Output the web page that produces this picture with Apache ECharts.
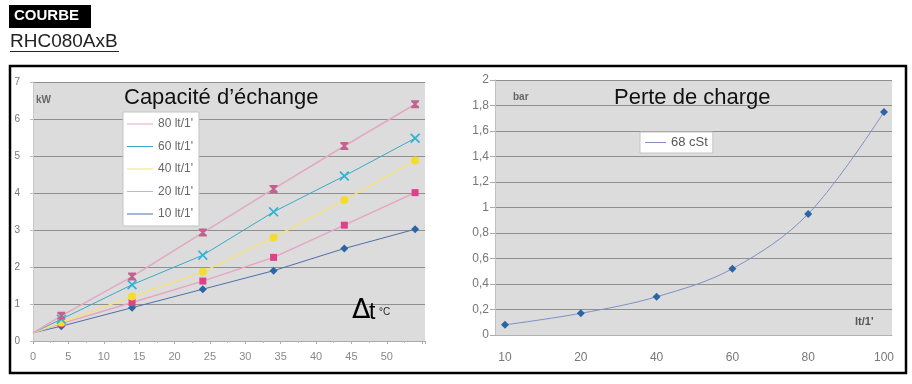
<!DOCTYPE html>
<html>
<head>
<meta charset="utf-8">
<script src="https://cdn.jsdelivr.net/npm/echarts@6/dist/echarts.min.js"></script>
<style>
html,body{margin:0;padding:0;background:#fff;}
#c{width:912px;height:384px;}
</style>
</head>
<body>
<div id="c"></div>
<script>
// ---- data ----
const dtValues = [0, 4, 14, 24, 34, 44, 54];           // Δt °C
const kw80 = [0.22, 0.68, 1.74, 2.93, 4.11, 5.27, 6.40];
const kw60 = [0.22, 0.59, 1.52, 2.32, 3.49, 4.46, 5.48];
const kw40 = [0.22, 0.50, 1.20, 1.87, 2.80, 3.81, 4.88];
const kw20 = [0.22, 0.47, 1.04, 1.62, 2.26, 3.13, 4.01];
const kw10 = [0.22, 0.40, 0.90, 1.40, 1.90, 2.50, 3.02];
const seriesNames = ["80 lt/1'", "60 lt/1'", "40 lt/1'", "20 lt/1'", "10 lt/1'"];
const flowCats = ['10', '20', '40', '60', '80', '100'];  // lt/1'
const bar68 = [0.08, 0.17, 0.30, 0.52, 0.95, 1.75];
const leftXTickMax = 50;

const FONT = "'Liberation Sans', Arial, sans-serif";
const pairs = arr => arr.map((v, i) => [dtValues[i], v]);
const hideFirst = size => (val, p) => p.dataIndex === 0 ? 0 : size;

const XPATH = 'path://M0,1.2 L1.2,0 L5,3.8 L8.8,0 L10,1.2 L6.2,5 L10,8.8 L8.8,10 L5,6.2 L1.2,10 L0,8.8 L3.8,5 Z';
const HOURGLASS = 'path://M0,0 L10,0 L10,2 L6.5,5 L10,8 L10,10 L0,10 L0,8 L3.5,5 L0,2 Z';

const styles = [
  {data: kw80, line: '#e2a9c2', mark: '#c2628e', symbol: HOURGLASS, size: 8, w: 1.6},
  {data: kw60, line: '#3aa9c6', mark: '#2fb2d6', symbol: XPATH, size: 10, w: 1},
  {data: kw40, line: '#f3e27a', mark: '#f4dc2e', symbol: 'circle', size: 8, w: 1.4},
  {data: kw20, line: '#e7a3c3', mark: '#e0408a', symbol: 'rect', size: 7, w: 1.4},
  {data: kw10, line: '#4d6fa8', mark: '#2b65a5', symbol: 'diamond', size: 8, w: 1}
];

const chart = echarts.init(document.getElementById('c'));
const option = {
  backgroundColor: '#ffffff',
  animation: false,
  textStyle: {fontFamily: FONT},
  title: [
    {text: 'Capacité d’échange', left: 119, top: 82, textStyle: {fontSize: 22, fontWeight: 'normal', color: '#111', fontFamily: FONT}},
    {text: 'Perte de charge', left: 609, top: 82, textStyle: {fontSize: 22, fontWeight: 'normal', color: '#111', fontFamily: FONT}}
  ],
  legend: [
    {
      orient: 'vertical', left: 123, top: 112,
      data: styles.map((s, i) => ({name: seriesNames[i], itemStyle: {color: s.line}})),
      icon: 'rect', itemWidth: 26, itemHeight: 1, itemGap: 8.5,
      backgroundColor: '#ffffff', borderColor: '#c4c4c4', borderWidth: 1,
      padding: [5, 6, 5, 4],
      textStyle: {fontSize: 12, color: '#666', lineHeight: 14, padding: [0, 0, 0, 0], fontFamily: FONT}
    },
    {
      orient: 'horizontal', left: 640, top: 132,
      data: [{name: '68 cSt', itemStyle: {color: '#8090c4'}}],
      icon: 'rect', itemWidth: 21, itemHeight: 1,
      backgroundColor: '#ffffff', borderColor: '#c4c4c4', borderWidth: 1,
      padding: [4, 5, 4, 5],
      textStyle: {fontSize: 13, color: '#555', fontFamily: FONT}
    }
  ],
  grid: [
    {left: 33, right: 487, top: 82, bottom: 43, show: true, backgroundColor: '#dcdcdc', borderWidth: 0},
    {left: 495, right: 20, top: 80, bottom: 49, show: true, backgroundColor: '#dcdcdc', borderWidth: 0},
    {left: 505, right: 28, top: 80, bottom: 49}
  ],
  xAxis: [
    {
      gridIndex: 0, type: 'value', min: 0, max: 55.4, interval: 5,
      axisLine: {show: true, lineStyle: {color: '#aaa'}},
      axisTick: {show: true, length: 3, lineStyle: {color: '#aaa'}},
      minorTick: {show: true, splitNumber: 2, length: 2, lineStyle: {color: '#bbb'}},
      splitLine: {show: false},
      axisLabel: {fontSize: 11, color: '#888', margin: 10, fontFamily: FONT,
        formatter: v => (v > leftXTickMax ? '' : String(v))}
    },
    {
      gridIndex: 1, type: 'value', min: 0, max: 1, show: true,
      axisLine: {show: true, lineStyle: {color: '#b0b0b0'}},
      axisTick: {show: false}, axisLabel: {show: false}, splitLine: {show: false}
    },
    {
      gridIndex: 2, type: 'category', data: flowCats, boundaryGap: false,
      axisLine: {show: false}, axisTick: {show: false}, splitLine: {show: false},
      axisLabel: {fontSize: 12, color: '#777', margin: 17, fontFamily: FONT}
    }
  ],
  yAxis: [
    {
      gridIndex: 0, type: 'value', min: 0, max: 7, interval: 1,
      axisLine: {show: true, lineStyle: {color: '#c8c8c8'}},
      axisTick: {show: true, length: 3, lineStyle: {color: '#bbb'}},
      axisLabel: {fontSize: 10, color: '#777', margin: 13, fontFamily: FONT},
      splitLine: {show: true, lineStyle: {color: '#8f8f8f', width: 1}},
      splitArea: {show: false}
    },
    {
      gridIndex: 1, type: 'value', min: 0, max: 2, interval: 0.2,
      axisLine: {show: true, lineStyle: {color: '#c0c0c0'}},
      axisTick: {show: true, length: 5, lineStyle: {color: '#aaa'}},
      axisLabel: {fontSize: 12, color: '#777', margin: 6, fontFamily: FONT,
        formatter: v => String(Math.round(v * 10) / 10).replace('.', ',')},
      splitLine: {show: true, lineStyle: {color: '#8f8f8f', width: 1}}
    },
    {
      gridIndex: 2, type: 'value', min: 0, max: 2, show: false
    }
  ],
  series: [
    ...styles.map((s, i) => ({
      name: seriesNames[i], type: 'line', xAxisIndex: 0, yAxisIndex: 0,
      data: pairs(s.data),
      symbol: s.symbol, symbolSize: hideFirst(s.size),
      lineStyle: {color: s.line, width: s.w},
      itemStyle: {color: s.mark},
      z: 10 - i
    })),
    {
      name: '68 cSt', type: 'line', xAxisIndex: 2, yAxisIndex: 2,
      data: bar68, smooth: 0.35,
      symbol: 'diamond', symbolSize: 8,
      lineStyle: {color: '#8090c4', width: 1},
      itemStyle: {color: '#2b65a5'}
    }
  ],
  graphic: [
    {type: 'rect', shape: {x: 10, y: 66, width: 896, height: 307}, style: {fill: 'none', stroke: '#000', lineWidth: 2.5}, z: 100},
    {type: 'rect', shape: {x: 9, y: 5, width: 82, height: 23}, style: {fill: '#000'}},
    {type: 'text', left: 14, top: 8, style: {text: 'COURBE', fill: '#fff', font: "bold 15px 'Liberation Sans', Arial, sans-serif"}},
    {type: 'text', left: 10, top: 32, style: {text: 'RHC080AxB', fill: '#222', font: "19px 'Liberation Sans', Arial, sans-serif"}},
    {type: 'line', shape: {x1: 10, y1: 51.5, x2: 119, y2: 51.5}, style: {stroke: '#222', lineWidth: 1}},
    {type: 'text', left: 36, top: 95, style: {text: 'kW', fill: '#666', font: "bold 10px 'Liberation Sans', Arial, sans-serif"}, z: 50},
    {type: 'text', left: 513, top: 92, style: {text: 'bar', fill: '#666', font: "bold 10px 'Liberation Sans', Arial, sans-serif"}, z: 50},
    {type: 'text', left: 855, top: 316, style: {text: "lt/1'", fill: '#555', font: "bold 11px 'Liberation Sans', Arial, sans-serif"}, z: 50},
    {type: 'text', left: 352, top: 297, style: {text: 'Δ', fill: '#000', font: "27px 'DejaVu Sans', sans-serif"}, z: 50},
    {type: 'text', left: 369, top: 301, style: {text: 't', fill: '#000', font: "23px 'Liberation Sans', Arial, sans-serif"}, z: 50},
    {type: 'text', left: 379, top: 307, style: {text: '°C', fill: '#222', font: "10px 'Liberation Sans', Arial, sans-serif"}, z: 50}
  ]
};
chart.setOption(option);
</script>
</body>
</html>
